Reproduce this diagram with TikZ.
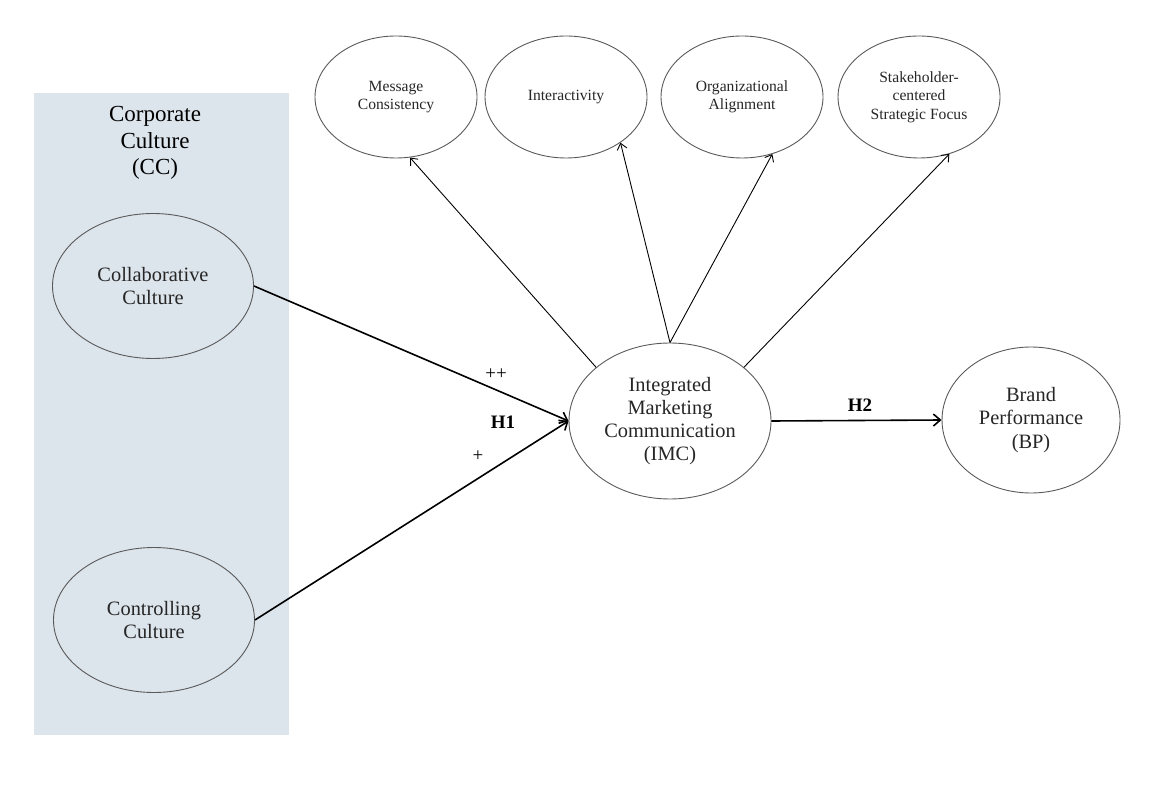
\documentclass[tikz,border=0pt]{standalone}
\usepackage{fontspec}
\setmainfont{Liberation Serif}
\usetikzlibrary{arrows.meta,shapes.geometric}

\definecolor{ccblue}{HTML}{DCE4EC}
\definecolor{rim}{HTML}{5A5A5A}

\tikzset{
	construct/.style={ellipse, draw=rim, line width=0.45pt, inner sep=0pt, align=center,
		font=\fontsize{10.2}{11.6}\selectfont, text=black!85},
	culture/.style={construct, minimum width=100.5pt, minimum height=72.5pt},
	facet/.style={construct, minimum width=81pt, minimum height=61pt,
		font=\fontsize{7.8}{9.2}\selectfont},
	link/.style={-{Straight Barb[length=3.5pt,width=6pt]}, line width=0.8pt},
	thinlink/.style={-{Straight Barb[length=3pt,width=5pt]}, line width=0.45pt},
	hyp/.style={font=\fontsize{9.5}{11}\selectfont\bfseries}
}

\begin{document}
\begin{tikzpicture}[x=0.5pt,y=-0.5pt]

	\useasboundingbox (0,0) rectangle (1154,785);
	\fill[ccblue] (34,93) rectangle (289,735);

	\node[align=center, font=\fontsize{11.5}{13.2}\selectfont] (cc) at (155,143) {Corporate\\Culture\\(CC)};
	\node[culture] (collab) at (153,286) {Collaborative\\Culture};
	\node[culture] (control) at (154,620) {Controlling\\Culture};

	\node[facet] (mc) at (396,97) {Message\\Consistency};
	\node[facet] (inter) at (566,97) {Interactivity};
	\node[facet] (oa) at (742,97) {Organizational\\Alignment};
	\node[facet] (ssf) at (919,97) {Stakeholder-\\centered\\Strategic Focus};

	\node[construct, minimum width=101pt, minimum height=78pt] (imc) at (670,421) {Integrated\\Marketing\\Communication\\(IMC)};
	\node[construct, minimum width=89pt, minimum height=73pt] (bp) at (1031,420) {Brand\\Performance\\(BP)};

	% paths from the two cultures
	\draw[link] (collab.east) -- (imc.west);
	\draw[link] (control.east) -- (imc.west);
	\draw[link] (imc.east) -- (bp.west);

	% reflective dimensions of IMC
	\draw[thinlink] (imc.144) -- (mc.283);
	\draw[thinlink] (imc.90) -- (inter.320);
	\draw[thinlink] (imc.90) -- (oa.298);
	\draw[thinlink] (imc.36) -- (ssf.298);

	\node[font=\fontsize{9.5}{11}\selectfont] (pp) at (496,374) {++};
	\node[hyp] (h1) at (503,422) {H1};
	\node[font=\fontsize{9.5}{11}\selectfont] (p) at (478,456) {+};
	\node[hyp] (h2) at (860,405) {H2};

\end{tikzpicture}
\end{document}
